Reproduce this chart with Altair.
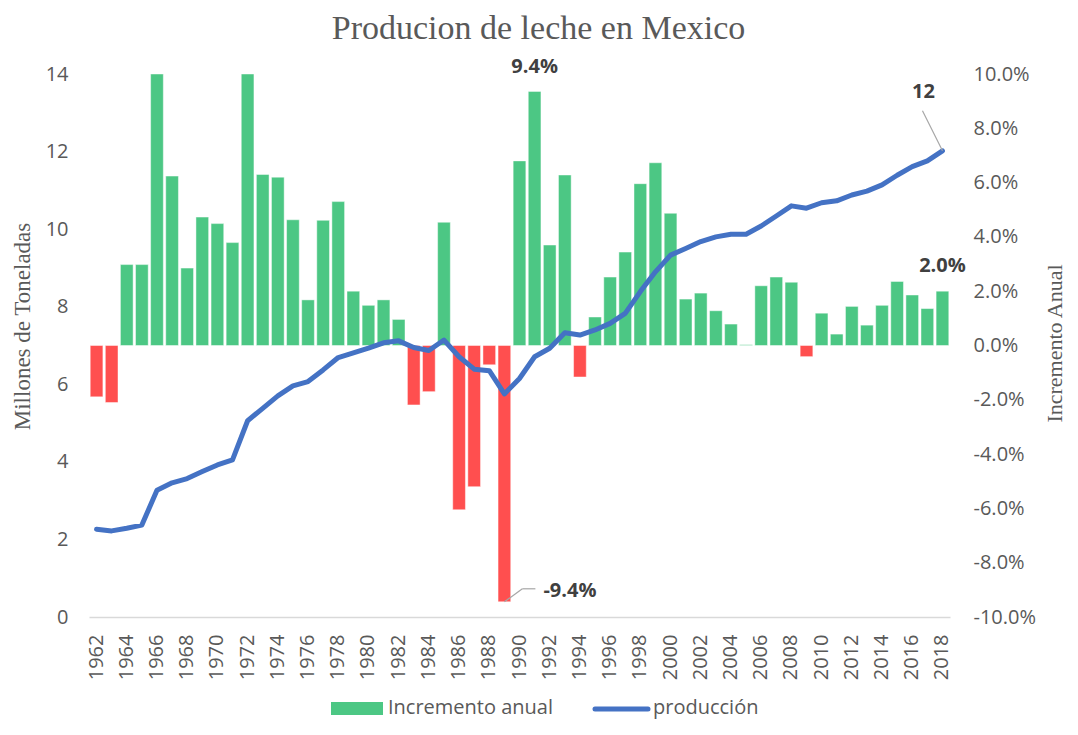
import altair as alt
import pandas as pd

years = list(range(1962, 2019))
incremento = [-1.89, -2.10, 2.98, 2.98, 10.0, 6.24, 2.85, 4.73, 4.49, 3.79,
              10.0, 6.30, 6.20, 4.63, 1.68, 4.61, 5.30, 2.00, 1.48, 1.68,
              0.96, -2.19, -1.70, 4.54, -6.05, -5.20, -0.71, -9.44, 6.80, 9.36,
              3.70, 6.28, -1.16, 1.05, 2.52, 3.44, 5.96, 6.73, 4.87, 1.71,
              1.93, 1.28, 0.79, 0.03, 2.20, 2.52, 2.33, -0.41, 1.19, 0.42,
              1.44, 0.75, 1.48, 2.36, 1.86, 1.36, 2.00]
produccion = [2.26, 2.22, 2.29, 2.37, 3.27, 3.46, 3.57, 3.75, 3.92, 4.05,
              5.06, 5.38, 5.70, 5.96, 6.07, 6.37, 6.69, 6.81, 6.93, 7.07,
              7.12, 6.95, 6.87, 7.14, 6.71, 6.39, 6.35, 5.75, 6.15, 6.71,
              6.93, 7.33, 7.27, 7.40, 7.57, 7.83, 8.39, 8.90, 9.33, 9.50,
              9.68, 9.80, 9.87, 9.87, 10.08, 10.34, 10.60, 10.54, 10.68, 10.73,
              10.88, 10.98, 11.14, 11.39, 11.61, 11.76, 12.02]
year_ticks = list(range(1962, 2019, 2))
left_ticks = [0, 2, 4, 6, 8, 10, 12, 14]
right_ticks = [-10, -8, -6, -4, -2, 0, 2, 4, 6, 8, 10]
legend_labels = ["Incremento anual", "producción"]

GREEN = "#4CC784"
RED = "#FF4F4F"
BLUE = "#4472C4"
GREY = "#595959"
LABEL = "#404040"
SANS = "Open Sans"
SERIF = "Liberation Serif"

PCT = "(datum.{f} < 0 ? '-' : '') + format(abs(datum.{f}), '.1f') + '%'"

df = pd.DataFrame({"year": years, "inc": incremento, "prod": produccion})
leg = pd.DataFrame({"label": legend_labels})

x_enc = alt.X(
    "year:O",
    title=None,
    scale=alt.Scale(paddingInner=0.16, paddingOuter=0.08),
    axis=alt.Axis(values=year_ticks, labelAngle=270, labelFont=SANS, labelFontSize=20,
                  labelColor=GREY, labelPadding=17, ticks=False, grid=False,
                  domain=True, domainColor="#D9D9D9", domainWidth=1.5),
)

y_inc = alt.Y(
    "inc:Q",
    title="Incremento Anual",
    scale=alt.Scale(domain=[-10, 10], nice=False, zero=False),
    axis=alt.Axis(orient="right", values=right_ticks,
                  labelExpr=PCT.format(f="value"),
                  labelFont=SANS, labelFontSize=20, labelColor=GREY, labelAlign="left",
                  labelPadding=23, ticks=False, grid=False, domain=False,
                  titleFont=SERIF, titleFontSize=22, titleColor=GREY, titleFontWeight="normal",
                  titleAngle=270, titleBaseline="middle", titleX=104, titleY=269),
)

y_prod = alt.Y(
    "prod:Q",
    title="Millones de Toneladas",
    scale=alt.Scale(domain=[0, 14], nice=False),
    axis=alt.Axis(orient="left", values=left_ticks,
                  labelFont=SANS, labelFontSize=20, labelColor=GREY,
                  labelPadding=21, ticks=False, grid=False, domain=False,
                  titleFont=SERIF, titleFontSize=23, titleColor=GREY, titleFontWeight="normal",
                  titleAngle=270, titleBaseline="middle", titleX=-67, titleY=252),
)

base = alt.Chart(df)

bars = base.mark_bar(stroke="white", strokeOpacity=0.45, strokeWidth=1).encode(
    x=x_enc, y=y_inc, y2=alt.datum(0),
    color=alt.condition("datum.inc >= 0", alt.value(GREEN), alt.value(RED)),
)

lbl_max = base.transform_filter("datum.year == 1991").transform_calculate(
    t=PCT.format(f="inc")
).mark_text(font=SANS, fontSize=20, fontWeight="bold", color=LABEL, dy=-24,
            baseline="middle").encode(x=x_enc, y=y_inc, text="t:N")

lbl_min = base.transform_filter("datum.year == 1989").transform_calculate(
    t=PCT.format(f="inc")
).mark_text(font=SANS, fontSize=20, fontWeight="bold", color=LABEL, align="left",
            baseline="middle", dx=39, dy=-11).encode(x=x_enc, y=y_inc, text="t:N")

lead_min1 = base.transform_filter("datum.year == 1989").mark_rule(
    color="#A6A6A6", strokeWidth=1.2, x2Offset=18, y2Offset=-13
).encode(x=x_enc, x2="year:O", y=y_inc, y2="inc:Q")
lead_min2 = base.transform_filter("datum.year == 1989").mark_rule(
    color="#A6A6A6", strokeWidth=1.2, xOffset=18, yOffset=-13, x2Offset=31, y2Offset=-13
).encode(x=x_enc, x2="year:O", y=y_inc, y2="inc:Q")

lbl_last = base.transform_filter("datum.year == 2018").transform_calculate(
    t=PCT.format(f="inc")
).mark_text(font=SANS, fontSize=20, fontWeight="bold", color=LABEL, baseline="middle",
            dy=-25).encode(x=x_enc, y=y_inc, text="t:N")

bar_group = alt.layer(bars, lead_min1, lead_min2, lbl_max, lbl_min, lbl_last)

line = base.mark_line(color=BLUE, strokeWidth=5, strokeCap="round", strokeJoin="round").encode(
    x=x_enc, y=y_prod
)

lead_prod = base.transform_filter("datum.year == 2018").mark_rule(
    color="#A6A6A6", strokeWidth=1.2, x2Offset=-20, y2Offset=-40
).encode(x=x_enc, x2="year:O", y=y_prod, y2="prod:Q")

lbl_prod = base.transform_filter("datum.year == 2018").transform_calculate(
    t="format(datum.prod, '.0f')"
).mark_text(font=SANS, fontSize=20, fontWeight="bold", color=LABEL, baseline="middle",
            dx=-19, dy=-59).encode(x=x_enc, y=y_prod, text="t:N")

line_group = alt.layer(line, lead_prod, lbl_prod)

# manual legend
lg = alt.Chart(leg)
leg_rect = lg.transform_filter(alt.datum.label == legend_labels[0]).mark_rect(color=GREEN).encode(
    x=alt.value(242), x2=alt.value(294), y=alt.value(628), y2=alt.value(641))
leg_t1 = lg.transform_filter(alt.datum.label == legend_labels[0]).mark_text(
    font=SANS, fontSize=20, color=GREY, align="left", baseline="middle").encode(
    x=alt.value(299), y=alt.value(634), text="label:N")
leg_line = lg.transform_filter(alt.datum.label == legend_labels[1]).mark_rule(
    color=BLUE, strokeWidth=5, strokeCap="round").encode(
    x=alt.value(506), x2=alt.value(559), y=alt.value(635))
leg_t2 = lg.transform_filter(alt.datum.label == legend_labels[1]).mark_text(
    font=SANS, fontSize=20, color=GREY, align="left", baseline="middle").encode(
    x=alt.value(564), y=alt.value(634), text="label:N")

chart = alt.layer(bar_group, line_group, leg_rect, leg_t1, leg_line, leg_t2).resolve_scale(
    y="independent"
).properties(
    width=861, height=543,
    title=alt.TitleParams("Producion de leche en Mexico", font=SERIF, fontSize=34,
                          color=GREY, fontWeight="normal", anchor="middle", dx=19, dy=-7),
    padding={"left": 81, "top": 66, "right": 116, "bottom": 105},
    autosize=alt.AutoSizeParams(type="none"),
).configure_view(stroke=None)

chart.save("out.html", embed_options={"renderer": "svg", "actions": False})
